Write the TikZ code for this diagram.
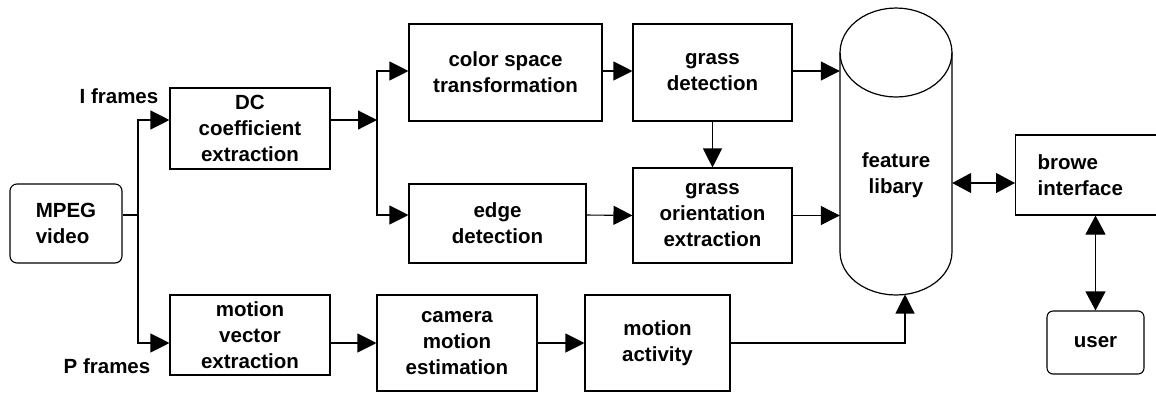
\documentclass[tikz,border=0pt]{standalone}
\usepackage{fontspec}
\setmainfont{Liberation Sans}
\usetikzlibrary{arrows.meta}
\begin{document}
\begin{tikzpicture}[x=1pt,y=-1pt,
  font=\bfseries\fontsize{20.5}{26}\selectfont,
  box/.style={draw, line width=1.1pt, inner sep=0pt, align=center},
  rbox/.style={box, rounded corners=7pt},
  line/.style={line width=1.1pt},
  cyl/.style={line width=1.2pt, line join=round},
  arr/.style={line, -{Triangle[length=19pt,width=19pt]}},
  dbl/.style={line, {Triangle[length=19pt,width=20pt]}-{Triangle[length=19pt,width=20pt]}}]
\useasboundingbox (0,0) rectangle (1156,392);

% processing blocks
\node[rbox, minimum width=112pt, minimum height=79pt, align=left] (mpeg) at (66,223.5) {MPEG\\video};
\node[box, minimum width=160pt, minimum height=81pt] (dc) at (250,128.5) {DC\\coefficient\\extraction};
\node[box, minimum width=160pt, minimum height=80pt] (mv) at (250,335) {motion\\vector\\extraction};
\node[box, minimum width=193pt, minimum height=97pt] (color) at (505.5,72.5) {color space\\transformation};
\node[box, minimum width=159pt, minimum height=97pt] (grass) at (712.5,72.5) {grass\\detection};
\node[box, minimum width=177pt, minimum height=79pt] (edge) at (497.5,223.5) {edge\\detection};
\node[box, minimum width=159pt, minimum height=95pt] (orient) at (712.5,215.5) {grass\\orientation\\extraction};
\node[box, minimum width=160pt, minimum height=96pt] (camera) at (457,343) {camera\\motion\\estimation};
\node[box, minimum width=145pt, minimum height=96pt] (activity) at (657.5,343) {motion\\activity};
\node[box, anchor=west, minimum width=145pt, minimum height=80pt, inner xsep=22pt, text width=101pt, align=left] (browse) at (1015,175) {browe\\interface};
\node[rbox, rounded corners=6pt, minimum width=97pt, minimum height=63pt] (user) at (1095.5,342.5) {user};

% feature library: anchor node and label
\node[inner sep=0pt, minimum width=112pt, minimum height=287pt] (lib) at (896,151.5) {};
\node[align=center] (libtxt) at (896,175) {feature\\libary};

% stream labels
\node (ifr) at (119,96) {I frames};
\node (pfr) at (107,366) {P frames};

% connector waypoints
\coordinate (fork) at (138,215);
\coordinate (split) at (377,120);
\coordinate (libin) at (905,294.5);
\coordinate (libmid) at (0,183);
\coordinate (topy) at (0,71);

% connectors
\draw[line] ([yshift=8.5pt]mpeg.east) -- (fork);
\draw[arr] (fork) |- (dc.west |- split);
\draw[arr] (fork) |- ([yshift=-8pt]mv.west);
\draw[arr] (dc.east |- split) -- (split);
\draw[arr] (split) |- (color.west |- topy);
\draw[arr] (split) |- ([yshift=8.5pt]edge.west);
\draw[arr] (color.east |- topy) -- (grass.west |- topy);
\draw[arr] (grass.south) -- (orient.north);
\draw[arr] ([yshift=8.5pt]edge.east) -- (orient.west);
\draw[arr] (grass.east |- topy) -- (lib.west |- topy);
\draw[arr] (orient.east) -- (lib.west |- orient.east);
\draw[arr] ([yshift=-8pt]mv.east) -- (camera.west);
\draw[arr] (camera.east) -- (activity.west);
\draw[arr] (activity.east) -| (libin);
\draw[dbl] (lib.east |- libmid) -- (browse.west |- libmid);
\draw[dbl] (user.north) -- (user.north |- browse.south);

% cylinder outline of the feature library, as polylines
\draw[cyl] plot[domain=0:180, samples=25] ({896+56*cos(\x)}, {52.5-44.5*sin(\x)})
  -- plot[domain=180:360, samples=25] ({896+56*cos(\x)}, {252-43*sin(\x)}) -- cycle;
\draw[cyl] plot[domain=180:360, samples=25] ({896+56*cos(\x)}, {52.5-44.5*sin(\x)});
\end{tikzpicture}
\end{document}
